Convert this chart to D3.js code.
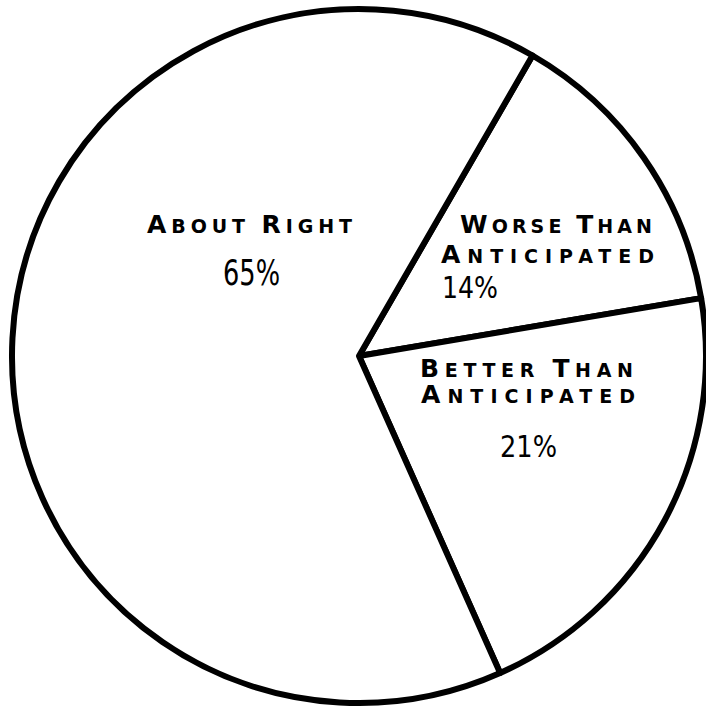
<!DOCTYPE html>
<html>
<head>
<meta charset="utf-8">
<script src="https://cdn.jsdelivr.net/npm/d3@7"></script>
<style>
  body { margin: 0; background: #fff; }
  svg { display: block; }
</style>
</head>
<body>
<div id="pie"></div>
<script>
// pie slices, in drawing order (clockwise from the top line)
var categories = ["Worse Than Anticipated", "Better Than Anticipated", "About Right"];
var values = [14, 21, 65];
var labelLines = [["Worse Than", "Anticipated"], ["Better Than", "Anticipated"], ["About Right"]];
var pctLabels = ["14%", "21%", "65%"];

var svgWidth = 706;
var svgHeight = 707;
var cx = 359, cy = 356, radius = 347;

// where each label block sits (line x's, first baseline, line gap, widths, pct position & size)
var layout = [
  { x: [460, 441], y: 233, gap: 30, lineW: [192, 213], px: 442, py: 298, pw: 56, fs: 30 },
  { x: [420, 421], y: 377, gap: 26, lineW: [213, 214], px: 500, py: 457, pw: 57, fs: 30 },
  { x: [147], y: 233, gap: 0, lineW: [205], px: 223, py: 285, pw: 57, fs: 35 }
];

var svg = d3.select("#pie")
  .append("svg")
  .attr("width", svgWidth)
  .attr("height", svgHeight);

var chartGroup = svg.append("g")
  .attr("transform", `translate(${cx}, ${cy})`);

var startDeg = 30;
var pie = d3.pie()
  .sort(null)
  .value(d => d)
  .startAngle(startDeg * Math.PI / 180)
  .endAngle((startDeg + 360) * Math.PI / 180);

var arc = d3.arc()
  .innerRadius(0)
  .outerRadius(radius);

chartGroup.selectAll("path.slice")
  .data(pie(values))
  .enter()
  .append("path")
  .attr("class", "slice")
  .attr("d", arc)
  .attr("fill", "#fff")
  .attr("stroke", "#000")
  .attr("stroke-width", 6)
  .attr("stroke-linejoin", "round");

// small caps lettering: first letter of each word bigger
function smallCaps(textSel, str) {
  str.split(" ").forEach(function(word, i) {
    if (i > 0) textSel.append("tspan").attr("font-size", 19).text(" ");
    textSel.append("tspan").attr("font-size", 25).text(word[0].toUpperCase());
    textSel.append("tspan").attr("font-size", 19).text(word.slice(1).toUpperCase());
  });
}

labelLines.forEach(function(lines, i) {
  var L = layout[i];
  lines.forEach(function(line, j) {
    var t = svg.append("text")
      .attr("x", L.x[j])
      .attr("y", L.y + j * L.gap)
      .attr("font-family", "DejaVu Sans, sans-serif")
      .attr("font-weight", "bold")
      .attr("fill", "#000")
      .attr("textLength", L.lineW[j])
      .attr("lengthAdjust", "spacing");
    smallCaps(t, line);
  });

  svg.append("text")
    .attr("x", L.px)
    .attr("y", L.py)
    .attr("font-family", "DejaVu Sans, sans-serif")
    .attr("font-size", L.fs)
    .attr("fill", "#000")
    .attr("textLength", L.pw)
    .attr("lengthAdjust", "spacingAndGlyphs")
    .text(pctLabels[i]);
});
</script>
</body>
</html>
